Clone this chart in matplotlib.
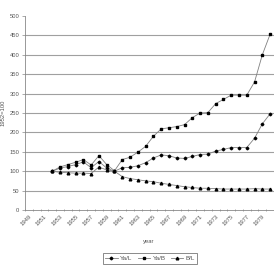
import matplotlib
matplotlib.use("Agg")
import matplotlib.pyplot as plt

years = list(range(1952, 1981))
ya_l = [100, 108, 112, 117, 124, 109, 125, 108, 100, 109, 110, 114, 122, 134, 142,
        140, 134, 133, 138, 143, 144, 152, 156, 161, 161, 161, 185, 222, 248]
ya_b = [100, 111, 117, 123, 130, 116, 140, 117, 101, 130, 136, 149, 164, 190, 209,
        212, 215, 220, 238, 250, 251, 274, 285, 296, 296, 296, 330, 400, 453]
b_l = [100, 97, 96, 95, 95, 94, 111, 103, 100, 86, 81, 78, 75, 73, 69,
       66, 63, 60, 58, 56, 56, 55, 54, 54, 54, 54, 55, 54, 54]
tick_years = list(range(1949, 1981, 2))
y_ticks = list(range(0, 501, 50))

plt.rcParams['font.family'] = ['Liberation Sans', 'DejaVu Sans']
txt = '#555555'
fig = plt.figure(figsize=(2.74, 2.72), dpi=100)
ax = fig.add_axes([25/274, 1-210/272, 1-25/274, (210-16)/272])

for v in y_ticks[1:-1]:
    ax.axhline(v, color='#a0a0a0', lw=0.8, zorder=1)

lc = '#808080'
ax.plot(years, ya_l, color=lc, lw=0.6, marker='D', ms=1.4, mfc='black', mec='black', label='Ya/L', zorder=3)
ax.plot(years, ya_b, color=lc, lw=0.6, marker='s', ms=1.8, mfc='black', mec='black', label='Ya/B', zorder=3)
ax.plot(years, b_l, color=lc, lw=0.6, marker='^', ms=1.9, mfc='black', mec='black', label='B/L', zorder=3)

ax.set_xlim(1948.5, 1980.5)
ax.set_ylim(0, 500)
ax.set_yticks(y_ticks)
ax.set_yticklabels([str(v) for v in y_ticks], fontsize=4.2, color=txt)
ax.set_xticks(tick_years)
ax.set_xticklabels([str(y) for y in tick_years], fontsize=4.2, color=txt,
                   rotation=45, ha='right', rotation_mode='anchor')
ax.set_xticks([y + 0.5 for y in range(1948, 1981)], minor=True)
ax.tick_params(axis='x', which='major', length=0, pad=3)
ax.tick_params(axis='x', which='minor', length=2, direction='inout', color='#888888', width=0.5)
ax.tick_params(axis='y', length=2, color='#888888', width=0.5, pad=2)

for s in ['top', 'right']:
    ax.spines[s].set_visible(False)
ax.spines['left'].set_color('#888888')
ax.spines['bottom'].set_color('#888888')
ax.spines['left'].set_linewidth(0.6)
ax.spines['bottom'].set_linewidth(0.6)

ax.set_ylabel('1952=100', fontsize=4.2, color=txt, labelpad=3)
fig.text(149/274, 1-241/272, 'year', fontsize=4.2, color=txt, ha='center', va='center')

leg = fig.legend(loc='center', bbox_to_anchor=(150/274, 1-258.5/272), ncol=3, fontsize=4.5,
                 frameon=True, fancybox=False, edgecolor='#555555', handlelength=2.0,
                 handletextpad=0.4, columnspacing=0.8, borderpad=0.4)
leg.get_frame().set_linewidth(0.6)
for t in leg.get_texts():
    t.set_color(txt)

fig.savefig('out.png', dpi=100)
